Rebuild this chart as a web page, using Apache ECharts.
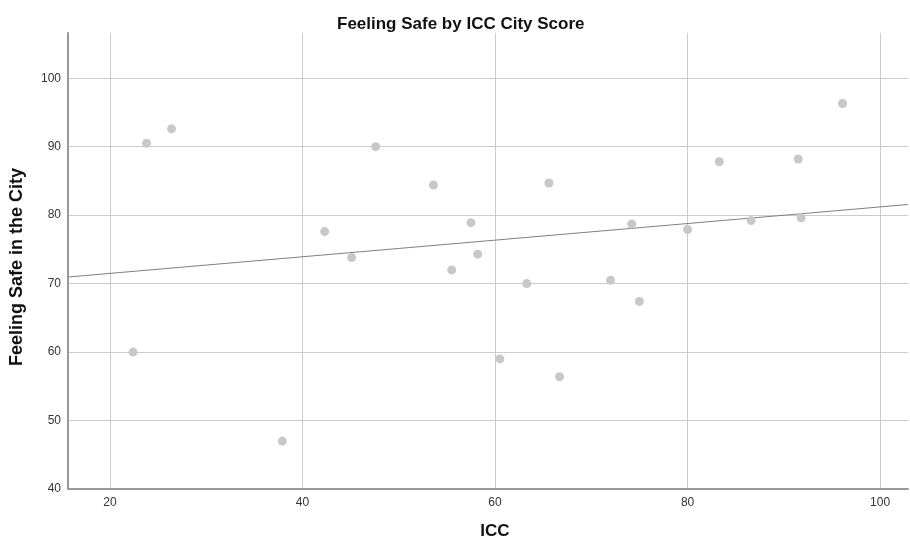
<!DOCTYPE html>
<html>
<head>
<meta charset="utf-8">
<script src="https://cdn.jsdelivr.net/npm/echarts@6/dist/echarts.min.js"></script>
<style>
html,body{margin:0;padding:0;background:#fff;}
#chart{width:910px;height:542px;}
</style>
</head>
<body>
<div id="chart"></div>
<script>
var titleText = 'Feeling Safe by ICC City Score';
var xName = 'ICC';
var yName = 'Feeling Safe in the City';
var icc = [22.4, 23.8, 26.4, 37.9, 42.3, 45.1, 47.6, 53.6, 55.5, 57.5, 58.2, 60.5,
           63.3, 65.6, 66.7, 72.0, 74.2, 75.0, 80.0, 83.3, 86.6, 91.5, 91.8, 96.1];
var safe = [60.0, 90.5, 92.6, 47.0, 77.6, 73.8, 90.0, 84.4, 72.0, 78.9, 74.3, 59.0,
            70.0, 84.7, 56.4, 70.5, 78.7, 67.4, 77.9, 87.8, 79.2, 88.2, 79.6, 96.3];
var xTicks = [20, 40, 60, 80, 100];
var yTicks = [40, 50, 60, 70, 80, 90, 100];
var xRange = [15.64, 102.9];
var yRange = [40, 106.6];

var points = icc.map(function (x, i) { return [x, safe[i]]; });

// least-squares fit line
var n = icc.length, mx = 0, my = 0;
for (var i = 0; i < n; i++) { mx += icc[i]; my += safe[i]; }
mx /= n; my /= n;
var sxy = 0, sxx = 0;
for (var j = 0; j < n; j++) { sxy += (icc[j] - mx) * (safe[j] - my); sxx += (icc[j] - mx) * (icc[j] - mx); }
var slope = sxy / sxx, intercept = my - slope * mx;
var fitLine = xRange.map(function (x) { return [x, intercept + slope * x]; });

var chart = echarts.init(document.getElementById('chart'), null, {renderer: 'canvas'});
var font = '"Liberation Sans", Arial, sans-serif';
chart.setOption({
  animation: false,
  backgroundColor: '#ffffff',
  title: {
    text: titleText,
    left: 332, top: 11,
    textStyle: {fontFamily: font, fontSize: 17, fontWeight: 'bold', color: '#111'}
  },
  grid: {left: 68, right: 2, top: 33, bottom: 53, containLabel: false, outerBoundsMode: 'none'},
  xAxis: {
    type: 'value', min: xRange[0], max: xRange[1],
    name: xName, nameLocation: 'middle', nameGap: 34,
    nameTextStyle: {fontFamily: font, fontSize: 17, fontWeight: 'bold', color: '#111', padding: [0, 0, 0, 14]},
    axisLine: {show: true, lineStyle: {color: '#999', width: 2}},
    axisTick: {show: false, customValues: xTicks},
    axisLabel: {customValues: xTicks, fontFamily: font, fontSize: 12, color: '#333', margin: 8},
    splitLine: {show: true, lineStyle: {color: '#cccccc', width: 1}}
  },
  yAxis: {
    type: 'value', min: yRange[0], max: yRange[1],
    name: yName, nameLocation: 'middle', nameGap: 42, nameRotate: 90,
    nameTextStyle: {fontFamily: font, fontSize: 18, fontWeight: 'bold', color: '#111', padding: [0, 12, 0, 0]},
    axisLine: {show: true, lineStyle: {color: '#999', width: 2}},
    axisTick: {show: false, customValues: yTicks},
    axisLabel: {customValues: yTicks, fontFamily: font, fontSize: 12, color: '#333', margin: 7},
    splitLine: {show: true, lineStyle: {color: '#cccccc', width: 1}}
  },
  series: [
    {
      type: 'line', data: fitLine, symbol: 'none', silent: true, z: 3,
      lineStyle: {color: '#808080', width: 1.2}
    },
    {
      type: 'scatter', data: points, symbol: 'circle', symbolSize: 9, z: 4,
      itemStyle: {color: '#c8c8c8', opacity: 1}
    }
  ]
});
</script>
</body>
</html>
